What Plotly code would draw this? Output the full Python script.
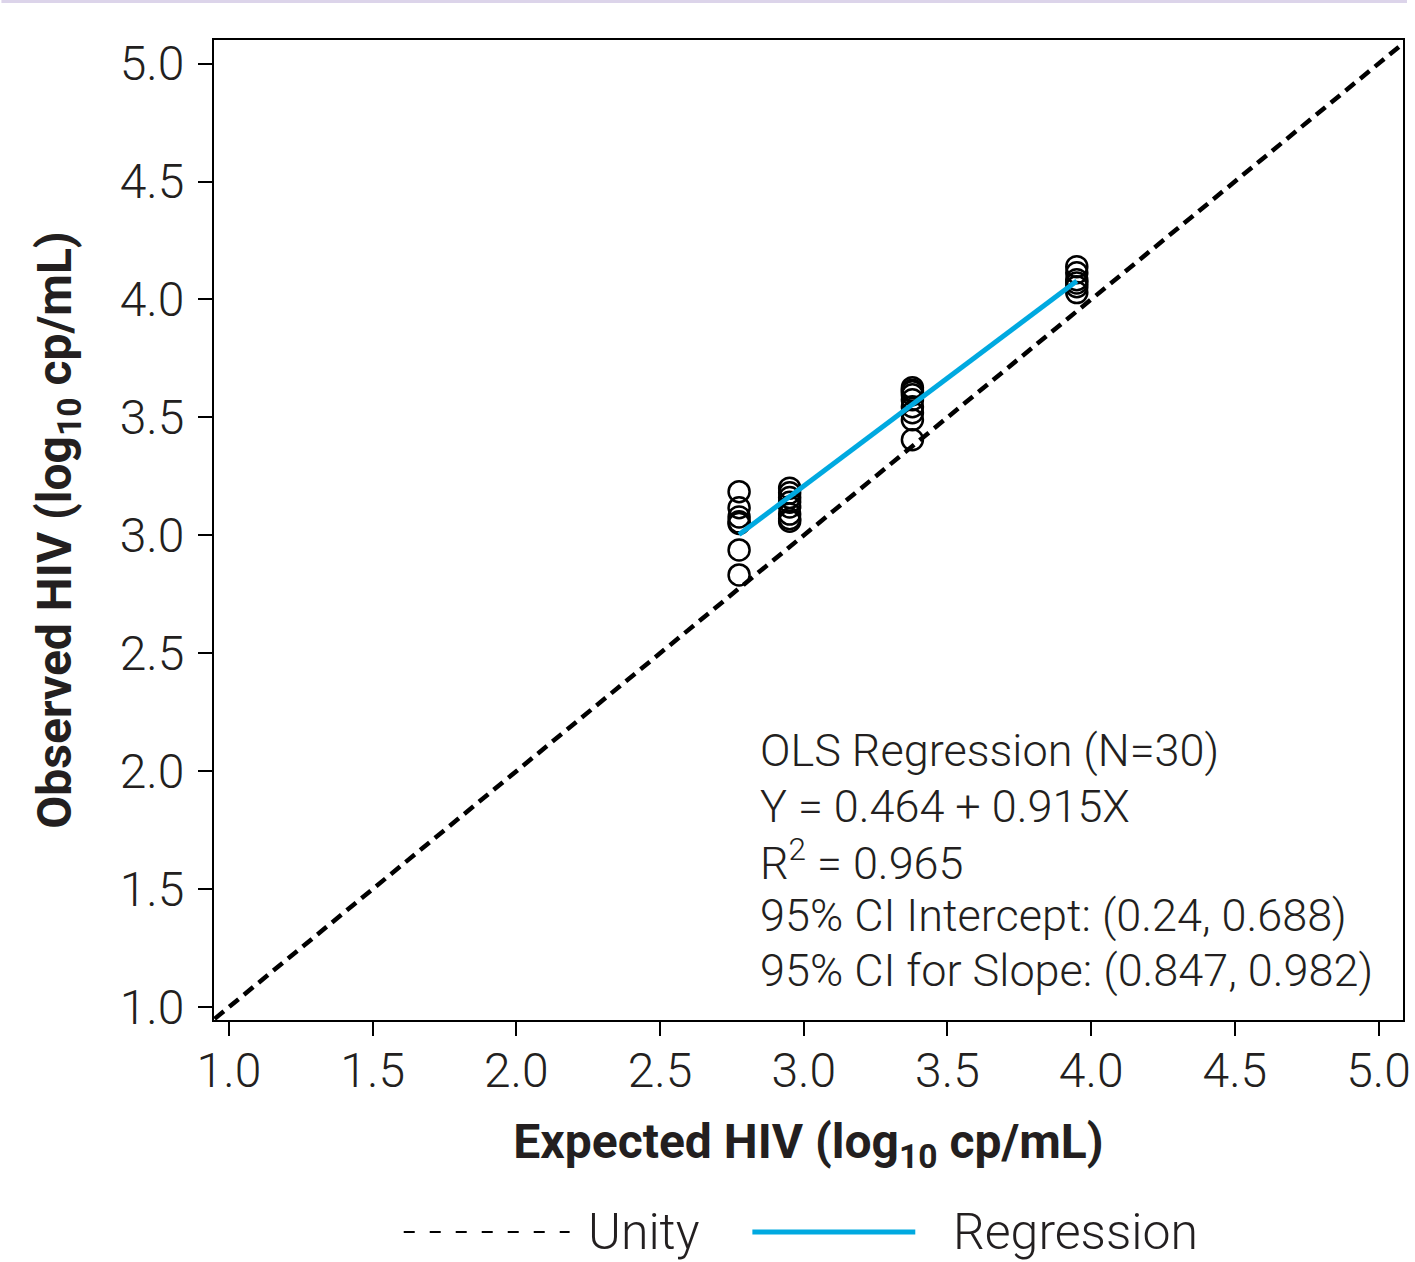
import plotly.graph_objects as go

# ---- data ----
expected_x = [2.775] * 7 + [2.951] * 8 + [3.378] * 9 + [3.95] * 6
observed_y = [3.185, 3.117, 3.078, 3.057, 3.05, 2.938, 2.832,
              3.20, 3.18, 3.16, 3.14, 3.12, 3.09, 3.06, 3.07,
              3.626, 3.615, 3.609, 3.596, 3.575, 3.545, 3.52, 3.49, 3.405,
              4.139, 4.113, 4.084, 4.07, 4.054, 4.029]
intercept = 0.464
slope = 0.915
reg_x = [2.775, 3.95]
unity_xy = [0.95, 5.1]
tick_vals = [1.0, 1.5, 2.0, 2.5, 3.0, 3.5, 4.0, 4.5, 5.0]
tick_text = ["1.0", "1.5", "2.0", "2.5", "3.0", "3.5", "4.0", "4.5", "5.0"]
stats_lines = ["OLS Regression (N=30)",
               "Y = 0.464 + 0.915X",
               "R<sup>2</sup> = 0.965",
               "95% CI Intercept: (0.24, 0.688)",
               "95% CI for Slope: (0.847, 0.982)"]

BLUE = "#00a9e0"
TXT = "#231f20"
FONT = "Roboto"

W, H = 1415, 1262
L, R, T, B = 214, 4, 40, 242
PW, PH = W - L - R, H - T - B


def px_x(p):
    return (p - L) / PW


def px_y(p):
    return (H - B - p) / PH


fig = go.Figure()
fig.add_trace(go.Scatter(x=unity_xy, y=unity_xy, mode="lines",
                         line=dict(color="black", width=4.5, dash="12px,7px"),
                         showlegend=False, hoverinfo="skip"))
fig.add_trace(go.Scatter(x=expected_x, y=observed_y, mode="markers",
                         marker=dict(symbol="circle-open", size=21, color="black",
                                     line=dict(color="black", width=2.5)),
                         showlegend=False))
fig.add_trace(go.Scatter(x=reg_x, y=[intercept + slope * v for v in reg_x],
                         mode="lines", line=dict(color=BLUE, width=5),
                         showlegend=False))

axis_common = dict(
    tickvals=tick_vals, ticktext=tick_text,
    ticks="outside", ticklen=14, tickwidth=2, tickcolor="black",
    showline=True, linecolor="black", linewidth=2, mirror=True,
    showgrid=False, zeroline=False, ticklabeloverflow="allow",
    tickfont=dict(family=FONT, size=48, color=TXT, weight=300),
)
fig.update_xaxes(**axis_common, range=[0.948, 5.085], ticklabelstandoff=-7,
                 title=dict(text="Expected HIV (log<sub>10</sub> cp/mL)",
                            font=dict(family=FONT, size=48, color=TXT, weight="bold"),
                            standoff=27))
fig.update_yaxes(**axis_common, range=[0.945, 5.1], ticklabelstandoff=4,
                 title=dict(text="Observed HIV (log<sub>10</sub> cp/mL)",
                            font=dict(family=FONT, size=48, color=TXT, weight="bold"),
                            standoff=33))

annotations = []
line_y = [751, 806, 860, 915, 970]
for txt, yp in zip(stats_lines, line_y):
    annotations.append(dict(text=txt, xref="paper", yref="paper", x=px_x(762), y=px_y(yp),
                            xanchor="left", yanchor="middle", showarrow=False,
                            font=dict(family=FONT, size=45, color=TXT, weight=300)))
# legend labels
annotations.append(dict(text="Unity", xref="paper", yref="paper", x=px_x(588), y=px_y(1232),
                        xanchor="left", yanchor="middle", showarrow=False,
                        font=dict(family=FONT, size=50, color=TXT, weight=300)))
annotations.append(dict(text="Regression", xref="paper", yref="paper", x=px_x(956), y=px_y(1232),
                        xanchor="left", yanchor="middle", showarrow=False,
                        font=dict(family=FONT, size=50, color=TXT, weight=300)))

shapes = [
    dict(type="line", xref="paper", yref="paper", x0=px_x(405), x1=px_x(572),
         y0=px_y(1232), y1=px_y(1232), line=dict(color="black", width=2, dash="11px,15px")),
    dict(type="line", xref="paper", yref="paper", x0=px_x(756), x1=px_x(920),
         y0=px_y(1232), y1=px_y(1232), line=dict(color=BLUE, width=5)),
    dict(type="rect", xref="paper", yref="paper", x0=px_x(0), x1=px_x(W),
         y0=px_y(3), y1=px_y(0), line=dict(width=0), fillcolor="#dcd4ea"),
]

fig.update_layout(width=W, height=H, margin=dict(l=L, r=R, t=T, b=B),
                  plot_bgcolor="white", paper_bgcolor="white",
                  showlegend=False, annotations=annotations, shapes=shapes,
                  font=dict(family=FONT, color=TXT))
fig.write_html("out.html", config={"displayModeBar": False},
               post_script="document.body.style.margin='0';document.body.style.padding='0';"
                           "document.body.style.overflow='hidden';"
                           "document.documentElement.style.overflow='hidden';")
